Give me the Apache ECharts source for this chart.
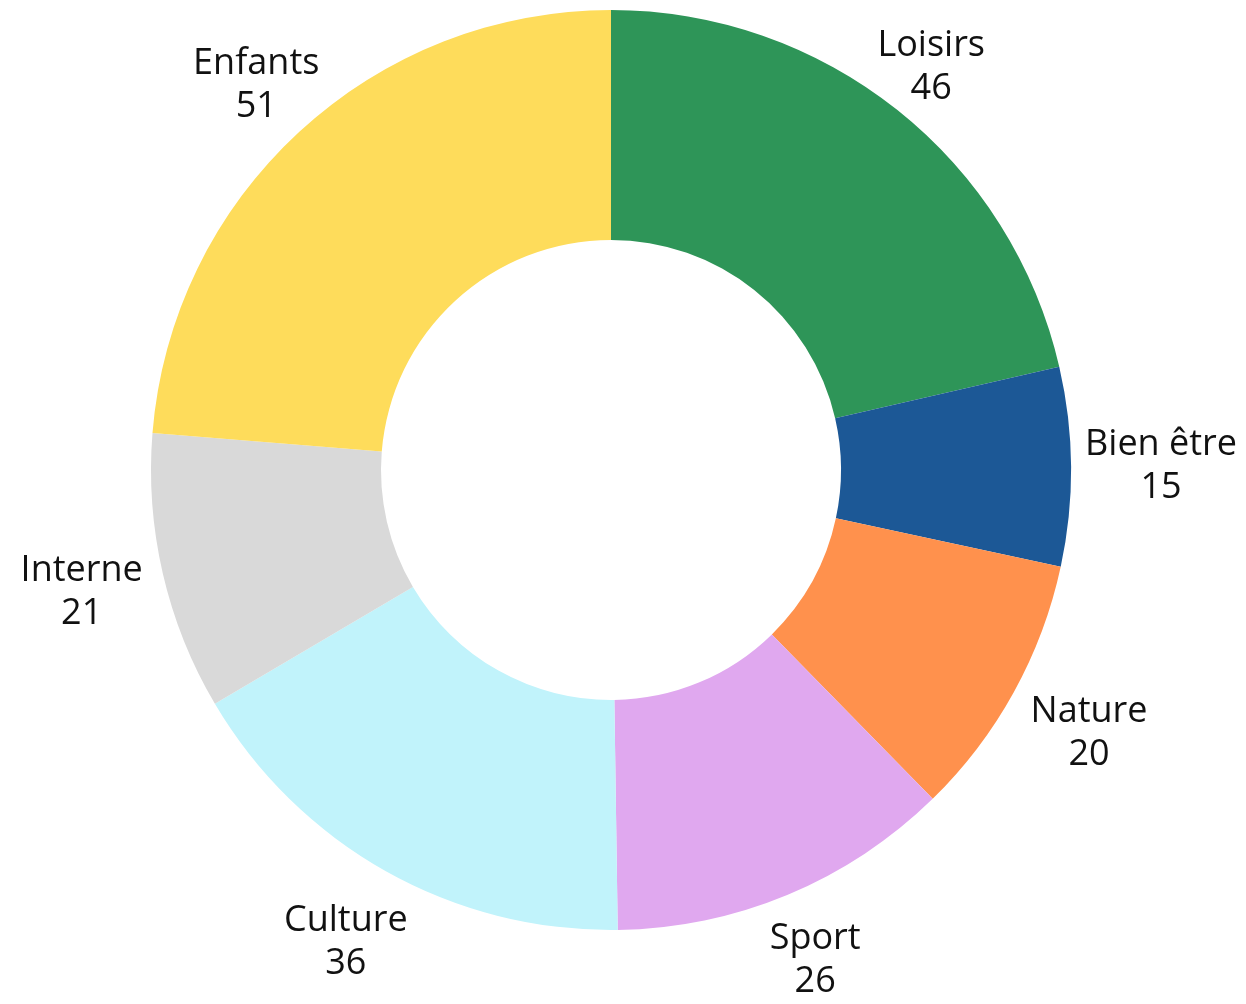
<!DOCTYPE html>
<html>
<head>
<meta charset="utf-8">
<script src="https://cdn.jsdelivr.net/npm/echarts@6/dist/echarts.min.js"></script>
<style>html,body{margin:0;padding:0;background:#fff}#c{width:1246px;height:1004px}</style>
</head>
<body>
<div id="c"></div>
<script>
var categories = ['Loisirs', 'Bien être', 'Nature', 'Sport', 'Culture', 'Interne', 'Enfants'];
var values = [46, 15, 20, 26, 36, 21, 51];
var colors = ['#2e9558', '#1c5896', '#ff914d', '#e0a8ef', '#c1f3fb', '#d9d9d9', '#fedc5b'];

var CX = 611, CY = 470, R_IN = 230, R_OUT = 460, GAP = 14;
var total = values.reduce(function (a, b) { return a + b; }, 0);
var midAngles = [];
(function () {
  var cum = 0;
  for (var i = 0; i < values.length; i++) {
    midAngles.push((cum + values[i] / 2) / total * 2 * Math.PI);
    cum += values[i];
  }
})();

var chart = echarts.init(document.getElementById('c'));
chart.setOption({
  animation: false,
  series: [{
    type: 'pie',
    center: [CX, CY],
    radius: [R_IN, R_OUT],
    startAngle: 90,
    clockwise: true,
    avoidLabelOverlap: false,
    data: categories.map(function (c, i) {
      return { name: c, value: values[i], itemStyle: { color: colors[i] } };
    }),
    label: {
      show: true,
      position: 'outside',
      formatter: '{b}\n{c}',
      fontFamily: 'Open Sans',
      fontSize: 36,
      lineHeight: 43,
      color: '#111111',
      align: 'center'
    },
    labelLine: { show: false },
    labelLayout: function (p) {
      var a = midAngles[p.dataIndex];
      var s = Math.sin(a), c = Math.cos(a);
      var w = p.labelRect.width / 2, h = p.labelRect.height / 2;
      var vf = c > 0 ? 0.2 : 1;
      var d = R_OUT + GAP + Math.abs(s) * w + vf * Math.abs(c) * h;
      return { x: CX + d * s, y: CY - d * c, align: 'center', verticalAlign: 'middle' };
    }
  }]
});
</script>
</body>
</html>
